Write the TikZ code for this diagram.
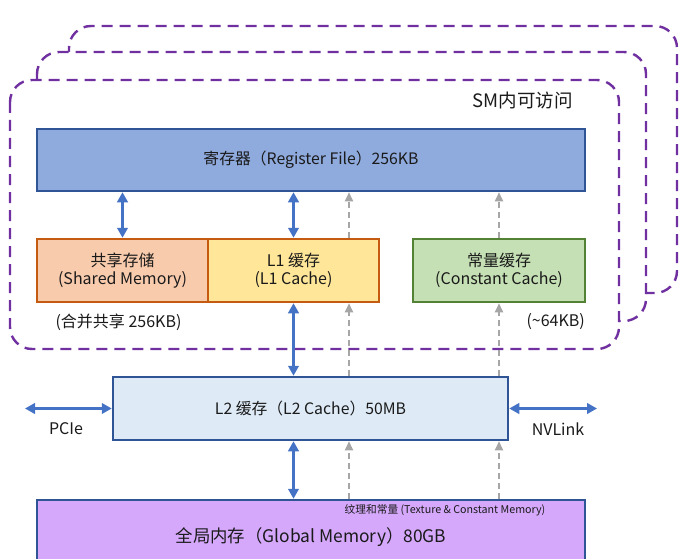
\documentclass[tikz,border=0pt]{standalone}
\usepackage{fontspec}
\setmainfont{Noto Sans CJK SC}
\usetikzlibrary{arrows.meta,calc}
\definecolor{framec}{HTML}{7030A0}
\definecolor{dblue}{HTML}{2F5597}
\definecolor{rfc}{HTML}{8FAADC}
\definecolor{shc}{HTML}{F8CBAD}
\definecolor{orb}{HTML}{C55A11}
\definecolor{l1c}{HTML}{FFE699}
\definecolor{ccc}{HTML}{C5E0B4}
\definecolor{gnb}{HTML}{548235}
\definecolor{l2c}{HTML}{DEEBF7}
\definecolor{gmc}{HTML}{D5A8FC}
\definecolor{arrblue}{HTML}{4472C4}
\definecolor{arrgray}{HTML}{A6A6A6}
\definecolor{txt}{HTML}{1A1A1A}
\begin{document}
\begin{tikzpicture}[x=1pt,y=-1pt,
  frame/.style={draw=framec, fill=white, line width=2.4pt, dash pattern=on 11pt off 7pt, rounded corners=22pt},
  box/.style={line width=2.5pt, inner sep=0pt, align=center, text=txt, font=\fontsize{16}{18}\selectfont},
  lbl/.style={text=txt, inner sep=0pt, font=\fontsize{16}{18}\selectfont},
  bigtxt/.style={font=\fontsize{15.8}{18}\selectfont},
  bluearr/.style={draw=arrblue, line width=3pt, {Triangle[length=10pt,width=10.5pt]}-{Triangle[length=10pt,width=10.5pt]}},
  grayarr/.style={draw=arrgray, line width=2pt, dash pattern=on 6pt off 4pt, -{Triangle[length=9pt,width=8pt]}}]
\useasboundingbox (0,0) rectangle (688,559);
\clip (0,0) rectangle (688,559);
% SM frames
\draw[frame] (69,26) rectangle (677,293);
\draw[frame] (37,52) rectangle (646,321);
\draw[frame] (10,80) rectangle (619,349);
\node[lbl, anchor=east, font=\fontsize{18.5}{20}\selectfont] (sm) at (573,100) {SM内可访问};
% boxes
\node[box, bigtxt, draw=dblue, fill=rfc, minimum width=548pt, minimum height=62pt] (rf) at (311,160) {寄存器（Register File）256KB};
\node[box, draw=orb, fill=shc, minimum width=171pt, minimum height=63pt] (sh) at (122.5,270.5) {共享存储\\(Shared Memory)};
\node[box, draw=orb, fill=l1c, minimum width=171pt, minimum height=63pt] (l1) at (293.5,270.5) {L1 缓存\\(L1 Cache)};
\node[box, draw=gnb, fill=ccc, minimum width=172pt, minimum height=63pt] (cc) at (499,270.5) {常量缓存\\(Constant Cache)};
\node[lbl] (shn) at (118.5,322) {(合并共享 256KB)};
\node[lbl, anchor=east] (ccn) at (585,322) {(\textasciitilde64KB)};
\node[box, bigtxt, draw=dblue, fill=l2c, minimum width=395pt, minimum height=63pt] (l2) at (310.5,408.5) {L2 缓存（L2 Cache）50MB};
\node[box, draw=dblue, fill=gmc, minimum width=548pt, minimum height=74pt, font=\fontsize{17.4}{20}\selectfont] (gm) at (311,537) {全局内存（Global Memory）80GB};
\node[lbl, font=\fontsize{10.7}{12}\selectfont] (tex) at (445,510) {纹理和常量 (Texture \& Constant Memory)};
% blue arrows
\draw[bluearr] (rf.south -| sh.north) -- (sh.north);
\draw[bluearr] (rf.south -| l1.north) -- (l1.north);
\draw[bluearr] (l1.south) -- (l1.south |- l2.north);
\draw[bluearr] (l2.south -| l1.south) -- (l1.south |- gm.north);
% gray dashed arrows
\coordinate (gx) at (349,0);
\draw[grayarr] (l1.north -| gx) -- (rf.south -| gx);
\draw[grayarr] (cc.north) -- (rf.south -| cc.north);
\draw[grayarr] (l2.north -| gx) -- (l1.south -| gx);
\draw[grayarr] (l2.north -| cc.south) -- (cc.south);
\draw[grayarr] (gm.north -| gx) -- (l2.south -| gx);
\draw[grayarr] (gm.north -| cc.south) -- (l2.south -| cc.south);
% external links
\coordinate (pl) at (25,408.5);
\coordinate (nl) at (597,408.5);
\draw[bluearr] (pl) -- (l2.west);
\draw[bluearr] (l2.east) -- (nl);
\node[lbl] (pcie) at (66,429) {PCIe};
\node[lbl] (nvl) at (558,429) {NVLink};
\end{tikzpicture}
\end{document}
